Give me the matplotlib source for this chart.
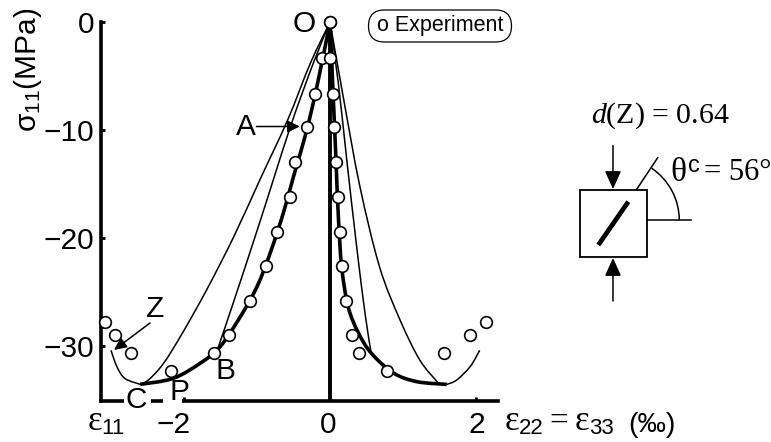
import matplotlib
matplotlib.use("Agg")
import matplotlib.pyplot as plt
from matplotlib.patches import Arc, FancyBboxPatch, PathPatch, Rectangle
from matplotlib.path import Path
from matplotlib.transforms import ScaledTranslation

plt.rcParams['font.family'] = ['Liberation Sans', 'DejaVu Sans']
plt.rcParams['mathtext.fontset'] = 'custom'
plt.rcParams['mathtext.rm'] = 'Liberation Sans'
plt.rcParams['mathtext.it'] = 'Liberation Serif:italic'

W, H = 771, 442
SERIF = ['Liberation Serif', 'DejaVu Serif']

# Experiment points
exp_left_x = [0, -0.11, -0.21, -0.31, -0.475, -0.55, -0.72, -0.88, -1.09, -1.39, -1.59, -2.18, -2.73, -2.95, -3.08]
exp_right_x = [0, 0.005, 0.04, 0.06, 0.087, 0.115, 0.14, 0.164, 0.22, 0.30, 0.40, 0.78, 1.557, 1.92, 2.137]
exp_y = [0, -3.3, -6.67, -9.72, -13.0, -16.2, -19.4, -22.6, -25.8, -29.0, -30.6, -32.3, -30.6, -29.0, -27.8]

# Thick curve
thick_left_x = [0, -0.18, -0.33, -0.50, -0.64, -0.82, -1.00, -1.23, -1.51, -1.78, -2.15, -2.60]
thick_left_y = [0, -5.99, -10.3, -14.3, -17.7, -21.4, -24.5, -27.3, -30.1, -31.6, -33.0, -33.55]
thick_right_x = [0, 0.046, 0.082, 0.114, 0.16, 0.25, 0.39, 0.57, 0.87, 1.19, 1.60]
thick_right_y = [0, -7.22, -12.8, -18.0, -22.7, -26.4, -28.8, -30.7, -32.5, -33.3, -33.55]

# Thin curves
outer_left_x = [-2.60, -2.48, -2.28, -2.03, -1.69, -1.32, -0.96, -0.58, -0.27, 0]
outer_left_y = [-33.55, -33.1, -31.6, -28.9, -24.8, -19.9, -14.6, -9.07, -3.83, 0]
tail_left_x = [-3.0, -2.92, -2.81, -2.60]
tail_left_y = [-30.4, -31.9, -33.0, -33.55]
inner_left_x = [-1.53, -1.32, -0.96, -0.55, -0.23, 0]
inner_left_y = [-30.1, -25.9, -18.5, -9.85, -3.83, 0]
inner_right_x = [0, 0.114, 0.23, 0.365, 0.48, 0.56]
inner_right_y = [0, -5.68, -12.8, -20.8, -27.0, -30.5]
outer_right_x = [0, 0.18, 0.41, 0.68, 0.96, 1.23, 1.48]
outer_right_y = [0, -6.9, -15.25, -22.7, -27.6, -31.3, -33.4]
tail_right_x = [1.60, 1.735, 1.92, 2.05]
tail_right_y = [-33.55, -33.15, -31.9, -30.4]

x_ticks = [-2, 0, 2]
x_tick_labels = ['\u22122', '0', '2']
y_ticks = [0, -10, -20, -30]
y_tick_labels = ['0', '\u221210', '\u221220', '\u221230']


def smooth(xs, ys):
    """Smooth Bezier path running through the read-off points."""
    pts = list(zip(xs, ys))
    verts, codes = [pts[0]], [Path.MOVETO]
    for i in range(len(pts) - 1):
        p0 = pts[max(i - 1, 0)]
        p1 = pts[i]
        p2 = pts[i + 1]
        p3 = pts[min(i + 2, len(pts) - 1)]
        c1 = (p1[0] + (p2[0] - p0[0]) / 6, p1[1] + (p2[1] - p0[1]) / 6)
        c2 = (p2[0] - (p3[0] - p1[0]) / 6, p2[1] - (p3[1] - p1[1]) / 6)
        verts += [c1, c2, p2]
        codes += [Path.CURVE4] * 3
    return Path(verts, codes)


fig = plt.figure(figsize=(W / 100, H / 100), dpi=100, facecolor='white')
ax = fig.add_axes([101 / W, 1 - 401 / H, (498 - 101) / W, (401 - 22) / H])
ax.set_xlim(-3.137, 2.301)
ax.set_ylim(-35.09, 0)
for s in ('top', 'right'):
    ax.spines[s].set_visible(False)
for s in ('left', 'bottom'):
    ax.spines[s].set_linewidth(2.6)
ax.patch.set_alpha(0)
ax.axvline(0, color='k', lw=2.8, zorder=2)

ax.set_xticks(x_ticks, x_tick_labels)
ax.set_yticks(y_ticks, y_tick_labels)
ax.tick_params(axis='both', direction='in', length=3, width=2, labelsize=21.5)
ax.tick_params(axis='y', pad=5)
ax.tick_params(axis='x', pad=7)
for t, dx in zip(ax.xaxis.get_major_ticks(), (-10, -2, 1)):
    t.label1.set_transform(t.label1.get_transform() + ScaledTranslation(dx / 100, 0, fig.dpi_scale_trans))

for xs, ys in ((outer_left_x, outer_left_y), (tail_left_x, tail_left_y), (inner_left_x, inner_left_y),
               (inner_right_x, inner_right_y), (outer_right_x, outer_right_y), (tail_right_x, tail_right_y)):
    ax.add_patch(PathPatch(smooth(xs, ys), fc='none', ec='k', lw=1.1, zorder=3, clip_on=False))
for xs, ys in ((thick_left_x, thick_left_y), (thick_right_x, thick_right_y)):
    ax.add_patch(PathPatch(smooth(xs, ys), fc='none', ec='k', lw=2.6, zorder=3, clip_on=False))
for xs in (exp_left_x, exp_right_x):
    ax.plot(xs, exp_y, ls='none', marker='o', ms=8.4, mfc='white', mec='k', mew=1.2, zorder=4, clip_on=False)

# Overlay in pixel units for labels and the schematic
ov = fig.add_axes([0, 0, 1, 1])
ov.set_xlim(0, W)
ov.set_ylim(H, 0)
ov.axis('off')
ov.patch.set_alpha(0)

# gaps in the axis line behind C and P
ov.add_patch(Rectangle((124, 396), 27, 9, fc='white', ec='none'))
ov.add_patch(Rectangle((163, 396), 19, 9, fc='white', ec='none'))


def label(x, y, s, size=21.5, **kw):
    ov.text(x, y, s, fontsize=size, ha='center', va='center', **kw)


label(304, 24, 'O')
label(246, 127, 'A')
label(226, 371, 'B')
label(136, 400, 'C')
label(179, 392, 'P')
label(155, 309, 'Z')

label(28, 70, '$\\mathregular{\u03c3_{11}}$(MPa)', rotation=90)

label(95, 422, '\u03b5', size=25, family=SERIF)
label(113, 429, '11', size=16)
ov.text(505, 422, '\u03b5', fontsize=25, family=SERIF, ha='left', va='center')
ov.text(519, 429, '22', fontsize=16, ha='left', va='center')
ov.text(549, 421, '=', fontsize=24, family=SERIF, ha='left', va='center')
ov.text(575, 422, '\u03b5', fontsize=25, family=SERIF, ha='left', va='center')
ov.text(589, 429, '33', fontsize=16, ha='left', va='center')
ov.text(628, 425, '(\u2030)', fontsize=20.5, ha='left', va='center')

# legend pill
ov.add_patch(FancyBboxPatch((368.5 + 16, 10 + 16), 143 - 32, 0, boxstyle='round,pad=16,rounding_size=16',
                            fc='white', ec='k', lw=0.9))
ov.text(377, 26, 'o Experiment', fontsize=15.5, ha='left', va='center')

# arrows to curves
for start, end in (((256.5, 126.5), (300, 126.5)), ((150, 323), (114, 350))):
    ov.annotate('', xy=end, xytext=start,
                arrowprops=dict(arrowstyle='-|>,head_length=0.75,head_width=0.36', color='k', lw=1.1,
                                shrinkA=0, shrinkB=0))

# schematic
ov.text(591, 116, '$\\mathit{d}$(Z) = 0.64', fontsize=21.5, family=SERIF, ha='left', va='center')
ov.add_patch(Rectangle((579.5, 189.5), 67.5, 67, fc='white', ec='k', lw=1.3))
ov.plot([598.3, 628.3], [245, 201.7], color='k', lw=3.4, solid_capstyle='butt')
ov.plot([636.7, 657.7], [189.3, 157.7], color='k', lw=1.1)
ov.plot([647, 690.7], [220.3, 220.3], color='k', lw=1.1)
ov.add_patch(Arc((616.5, 220.3), 125.6, 125.6, theta1=-56, theta2=0, color='k', lw=1.1))
for start, end in (((613, 145.5), (613, 189)), ((613, 301), (613, 258))):
    ov.annotate('', xy=end, xytext=start,
                arrowprops=dict(arrowstyle='-|>,head_length=1.1,head_width=0.5', color='k', lw=1.1,
                                shrinkA=0, shrinkB=0))
ov.text(670, 173, '\u03b8', fontsize=24, family=SERIF, ha='left', va='center')
ov.text(688, 166, 'c', fontsize=17, ha='left', va='center')
ov.text(704, 173, '= 56\u00b0', fontsize=22, family=SERIF, ha='left', va='center')

fig.savefig('out.png', dpi=100, facecolor='white')
